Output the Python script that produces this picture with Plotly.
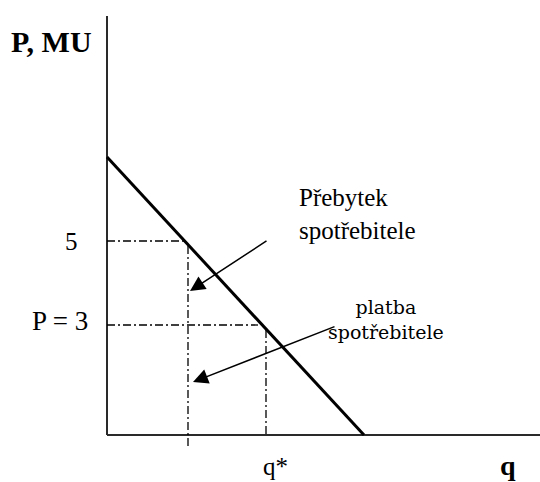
import plotly.graph_objects as go

# ---- schematic data (chart units; 1 unit = 10 px) ----
demand_q = [0.0, 25.7]
demand_p = [27.8, 0.0]
price_levels = [19.4, 11.0]          # "5" and "P = 3"
price_labels = ["5", "P = 3"]
price_line_end = [7.7, 15.1]          # where dash-dot price lines stop
qty_levels = [8.1, 15.9]              # vertical dash-dot lines
qty_line_bottom = [-1.2, 0.0]
qty_label = "q*"
y_axis_top = 41.9
x_axis_end = 43.3
arrow_tails = [(16.1, 19.5), (22.9, 10.9)]
arrow_heads = [(8.3, 14.4), (8.6, 5.3)]

SERIF = "Liberation Serif"
W, H = 540, 482

fig = go.Figure()

# axes
fig.add_trace(go.Scatter(x=[0, 0], y=[0, y_axis_top], mode="lines",
                         line=dict(color="#2a2a2a", width=2), hoverinfo="skip"))
fig.add_trace(go.Scatter(x=[0, x_axis_end], y=[0, 0], mode="lines",
                         line=dict(color="#2a2a2a", width=2), hoverinfo="skip"))

# dash-dot guide lines
dd = "8px,3px,2px,3px"
for p, e in zip(price_levels, price_line_end):
    fig.add_trace(go.Scatter(x=[0, e], y=[p, p], mode="lines",
                             line=dict(color="black", width=1.3, dash=dd), hoverinfo="skip"))
for q, p, b in zip(qty_levels, price_levels, qty_line_bottom):
    fig.add_trace(go.Scatter(x=[q, q], y=[p - 0.5, b], mode="lines",
                             line=dict(color="black", width=1.3, dash=dd), hoverinfo="skip"))

# demand line
fig.add_trace(go.Scatter(x=demand_q, y=demand_p, mode="lines",
                         line=dict(color="black", width=3), hoverinfo="skip"))

ann = []
# arrows
for (tx, ty), (hx, hy) in zip(arrow_tails, arrow_heads):
    ann.append(dict(x=hx, y=hy, ax=tx, ay=ty, xref="x", yref="y", axref="x", ayref="y",
                    showarrow=True, arrowhead=2, arrowsize=2.0, arrowwidth=1.5,
                    arrowcolor="black", text=""))

# price labels
ann.append(dict(x=-2.7, y=price_levels[0], xref="x", yref="y", text=price_labels[0],
                showarrow=False, xanchor="right", yanchor="middle",
                font=dict(family=SERIF, size=25, color="black")))
ann.append(dict(x=-1.7, y=price_levels[1] + 0.4, xref="x", yref="y", text=price_labels[1],
                showarrow=False, xanchor="right", yanchor="middle",
                font=dict(family=SERIF, size=27, color="black")))
# q* label
ann.append(dict(x=qty_levels[1] + 0.9, y=-3.1, xref="x", yref="y", text=qty_label,
                showarrow=False, xanchor="center", yanchor="middle",
                font=dict(family=SERIF, size=25, color="black")))
# axis titles
ann.append(dict(x=51 / W, y=1 - 41 / H, xref="paper", yref="paper",
                text="<b>P, MU</b>", showarrow=False, xanchor="center", yanchor="middle",
                font=dict(family=SERIF, size=30, color="black")))
ann.append(dict(x=40.1, y=-3.0, xref="x", yref="y", text="<b>q</b>",
                showarrow=False, xanchor="center", yanchor="middle",
                font=dict(family=SERIF, size=28, color="black")))
# callouts
ann.append(dict(x=19.0, y=22.1, xref="x", yref="y", text="Přebytek<br>spotřebitele",
                showarrow=False, xanchor="left", yanchor="middle", align="left",
                font=dict(family=SERIF, size=25, color="black")))
ann.append(dict(x=27.9, y=11.6, xref="x", yref="y", text="platba<br>spotřebitele",
                showarrow=False, xanchor="center", yanchor="middle", align="center",
                font=dict(family="DejaVu Serif", size=19, color="#000")))

fig.update_layout(
    width=W, height=H,
    margin=dict(l=0, r=0, t=0, b=0),
    paper_bgcolor="white", plot_bgcolor="white",
    showlegend=False,
    xaxis=dict(range=[-10.7, 43.3], visible=False, fixedrange=True),
    yaxis=dict(range=[-4.7, 43.5], visible=False, fixedrange=True),
    annotations=ann,
)

fig.write_html(
    "out.html",
    config={"displayModeBar": False, "staticPlot": True},
    post_script="document.body.style.margin='0';document.body.style.overflow='hidden';",
)
